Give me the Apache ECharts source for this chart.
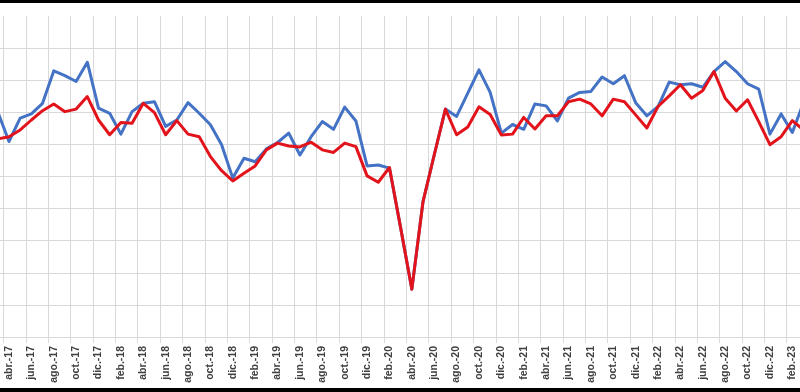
<!DOCTYPE html>
<html>
<head>
<meta charset="utf-8">
<script src="https://cdn.jsdelivr.net/npm/echarts@6/dist/echarts.min.js"></script>
<style>
html,body{margin:0;padding:0;background:#fff;}
#chart{width:800px;height:392px;}
</style>
</head>
<body>
<div id="chart"></div>
<script>
const categories = [
  'mar.-17','abr.-17','may.-17','jun.-17','jul.-17','ago.-17','sep.-17','oct.-17','nov.-17','dic.-17',
  'ene.-18','feb.-18','mar.-18','abr.-18','may.-18','jun.-18','jul.-18','ago.-18','sep.-18','oct.-18','nov.-18','dic.-18',
  'ene.-19','feb.-19','mar.-19','abr.-19','may.-19','jun.-19','jul.-19','ago.-19','sep.-19','oct.-19','nov.-19','dic.-19',
  'ene.-20','feb.-20','mar.-20','abr.-20','may.-20','jun.-20','jul.-20','ago.-20','sep.-20','oct.-20','nov.-20','dic.-20',
  'ene.-21','feb.-21','mar.-21','abr.-21','may.-21','jun.-21','jul.-21','ago.-21','sep.-21','oct.-21','nov.-21','dic.-21',
  'ene.-22','feb.-22','mar.-22','abr.-22','may.-22','jun.-22','jul.-22','ago.-22','sep.-22','oct.-22','nov.-22','dic.-22',
  'ene.-23','feb.-23','mar.-23'
];

const blueSeries = [
  70.1, 60.9, 68.2, 69.5, 72.8, 82.9, 81.4, 79.6, 85.6, 71.3,
  69.7, 63.2, 70.2, 72.8, 73.3, 65.6, 67.6, 73.0, 69.7, 66.1, 59.9, 49.5,
  55.7, 54.6, 58.6, 60.6, 63.5, 56.7, 62.4, 67.1, 64.7, 71.6, 67.3, 53.3,
  53.6, 52.6, 34.0, 14.9, 42.2, 56.7, 71.0, 68.7, 76.0, 83.2, 76.2, 63.5,
  66.2, 64.7, 72.6, 72.0, 67.3, 74.4, 76.2, 76.5, 81.0, 78.9, 81.4, 73.0,
  68.9, 71.8, 79.4, 78.6, 78.9, 77.8, 82.7, 85.8, 82.7, 78.9, 77.2, 63.2,
  69.5, 63.7, 73.0
];

const redSeries = [
  61.7, 62.4, 64.5, 67.6, 70.5, 72.6, 70.2, 71.0, 74.9, 67.6,
  63.0, 66.8, 66.6, 72.8, 69.9, 63.0, 67.4, 63.2, 62.4, 56.2, 51.8, 48.6,
  51.0, 53.3, 58.3, 60.4, 59.5, 59.2, 60.7, 58.3, 57.5, 60.4, 59.3, 50.2,
  48.2, 52.8, 34.0, 14.9, 42.2, 56.7, 71.0, 63.0, 65.4, 71.7, 69.3, 62.9,
  63.2, 68.4, 64.8, 68.9, 68.9, 73.3, 74.1, 72.6, 68.9, 74.1, 73.3, 69.2,
  65.1, 71.8, 75.1, 78.6, 74.4, 76.8, 82.7, 74.4, 70.4, 73.9, 67.1, 59.9,
  62.4, 67.4, 64.5
];

const yMin = 0, yMax = 100, yStep = 10;

const chart = echarts.init(document.getElementById('chart'), null, {renderer: 'canvas'});
const everyOther = (idx) => idx % 2 === 1;
const gridGray = '#d9d9d9';
const splitColors = [];
for (let v = yMin; v <= yMax; v += yStep) splitColors.push(v === yMax ? 'rgba(0,0,0,0)' : gridGray);

chart.setOption({
  animation: false,
  backgroundColor: '#ffffff',
  grid: {left: -7.8, top: 16, width: 816.9, bottom: 55, containLabel: false, outerBoundsMode: 'none'},
  xAxis: {
    type: 'category',
    data: categories,
    boundaryGap: true,
    axisLine: {show: true, lineStyle: {color: gridGray, width: 1}},
    axisTick: {show: true, interval: everyOther, length: 6, lineStyle: {color: gridGray, width: 1}},
    splitLine: {show: true, interval: everyOther, lineStyle: {color: gridGray, width: 1}},
    axisLabel: {
      interval: everyOther,
      rotate: 90,
      margin: 9,
      color: '#404040',
      fontSize: 10.5,
      fontWeight: 'bold',
      fontFamily: 'Liberation Sans, Arial, sans-serif'
    }
  },
  yAxis: {
    type: 'value',
    min: yMin,
    max: yMax,
    interval: yStep,
    axisLabel: {show: false},
    axisLine: {show: false},
    axisTick: {show: false},
    splitLine: {show: true, lineStyle: {color: splitColors, width: 1}}
  },
  series: [
    {
      name: 'azul',
      type: 'line',
      data: blueSeries,
      symbol: 'none',
      lineStyle: {color: '#4472C4', width: 3, join: 'round', cap: 'round'},
      itemStyle: {color: '#4472C4'},
      z: 2
    },
    {
      name: 'rojo',
      type: 'line',
      data: redSeries,
      symbol: 'none',
      lineStyle: {color: '#E3131B', width: 3, join: 'round', cap: 'round'},
      itemStyle: {color: '#E3131B'},
      z: 3
    }
  ],
  graphic: [
    {type: 'rect', left: 0, top: 0, shape: {width: 800, height: 3}, style: {fill: '#000'}, z: 100},
    {type: 'rect', left: 0, top: 388, shape: {width: 800, height: 4}, style: {fill: '#000'}, z: 100}
  ]
});
</script>
</body>
</html>
